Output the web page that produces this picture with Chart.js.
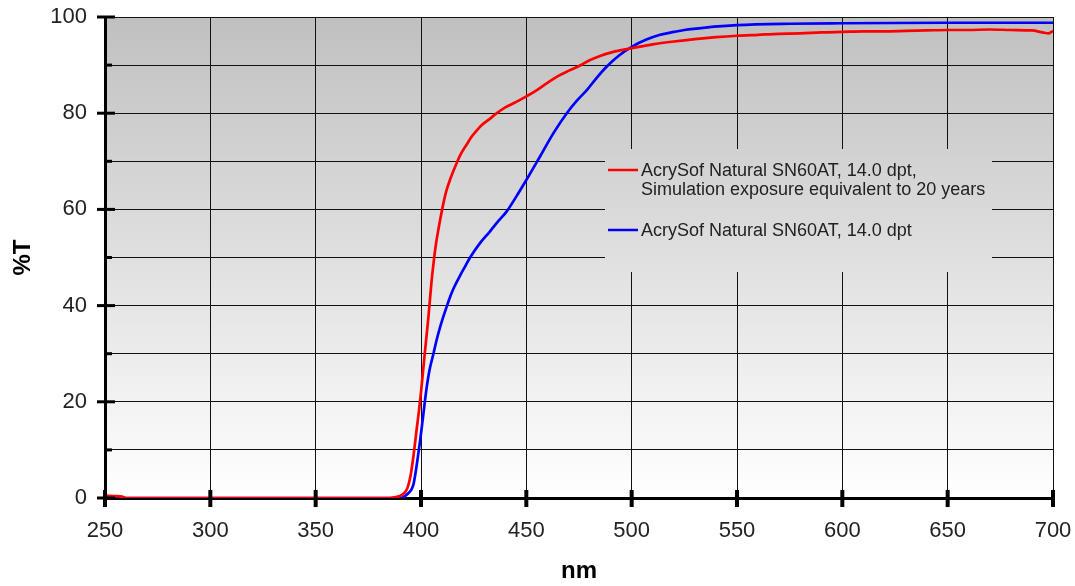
<!DOCTYPE html>
<html>
<head>
<meta charset="utf-8">
<script src="https://cdn.jsdelivr.net/npm/chart.js@4.4.1/dist/chart.umd.min.js"></script>
<style>
  html, body { margin: 0; padding: 0; background: #fff; }
  #wrap { width: 1075px; height: 586px; }
</style>
</head>
<body>
<div id="wrap"><canvas id="trans"></canvas></div>
<script>
// transmission curves
var redNm = [250, 255, 258, 260, 300, 350, 385, 388, 390, 392, 393.5, 395, 396.5, 398, 399, 400, 401, 402, 403.5, 405, 406, 407, 408.2, 409.5, 410.6, 412, 413.8, 416.9, 419, 421.7, 424, 426.4, 429, 432, 436, 440, 445, 450, 455, 460, 465, 470, 475, 480, 485, 490, 495, 500, 510, 520, 530, 540, 550, 560, 570, 580, 590, 600, 610, 620, 630, 640, 650, 660, 670, 680, 690, 695, 698, 700];
var redT = [0.5, 0.4, 0.3, 0, 0, 0, 0, 0.2, 0.4, 1.0, 2, 4.5, 9, 14.5, 18, 22, 26.5, 31, 37.5, 45, 49, 52.5, 55.7, 58.8, 61.2, 63.8, 66.2, 69.6, 71.6, 73.5, 75.1, 76.4, 77.6, 78.6, 80, 81.2, 82.3, 83.5, 84.8, 86.3, 87.7, 88.8, 89.8, 91, 91.9, 92.6, 93.1, 93.5, 94.3, 94.9, 95.4, 95.8, 96.1, 96.3, 96.5, 96.6, 96.8, 96.9, 97.0, 97.0, 97.1, 97.2, 97.3, 97.3, 97.4, 97.3, 97.2, 96.8, 96.6, 97.1];

var blueNm = [250, 300, 350, 388, 390, 392, 394, 395.5, 396.5, 397.5, 398.5, 399.6, 401, 402.7, 404, 405.9, 407.5, 409.1, 410.6, 412.2, 413.8, 415.5, 418.5, 420.5, 423.3, 428, 432.7, 436, 440.7, 445, 450, 456.5, 462.8, 469.2, 474, 478.7, 483.5, 488.2, 494, 500, 507, 513.5, 520, 525, 535, 550, 575, 600, 650, 700];
var blueT = [0, 0, 0, 0, 0, 0.3, 1, 1.8, 3, 5.5, 8.5, 12, 17, 23, 26.5, 30, 33, 35.6, 37.7, 39.8, 41.8, 43.6, 46.2, 47.8, 50, 53, 55.4, 57.2, 59.6, 62.5, 66.1, 71, 75.8, 80, 82.6, 84.8, 87.4, 89.7, 92, 93.8, 95.3, 96.3, 96.9, 97.3, 97.8, 98.3, 98.6, 98.7, 98.8, 98.8];

var seriesLabels = [
  ["AcrySof Natural SN60AT, 14.0 dpt,", "Simulation exposure equivalent to 20 years"],
  ["AcrySof Natural SN60AT, 14.0 dpt"]
];
var seriesColors = ["#ff0000", "#0000ff"];

function toPoints(xs, ys) {
  return xs.map(function (x, i) { return { x: x, y: ys[i] }; });
}

function plotGradient(ctx, area) {
  var g = ctx.createLinearGradient(0, area.top, 0, area.bottom);
  g.addColorStop(0, "#c0c0c0");
  g.addColorStop(1, "#ffffff");
  return g;
}

var FONT = "'Liberation Sans', Arial, sans-serif";

var backdrop = {
  id: "backdrop",
  beforeDraw: function (chart) {
    var ctx = chart.ctx, a = chart.chartArea;
    ctx.save();
    ctx.fillStyle = plotGradient(ctx, a);
    ctx.fillRect(a.left, a.top, a.right - a.left, a.bottom - a.top);
    ctx.restore();
  }
};

var extras = {
  id: "extras",
  afterDraw: function (chart) {
    var ctx = chart.ctx, a = chart.chartArea;
    var xs = chart.scales.x, ys = chart.scales.y;
    ctx.save();

    // tick marks
    ctx.strokeStyle = "#000";
    ctx.lineWidth = 3;
    for (var v = 0; v <= 100; v += 10) {
      var py = ys.getPixelForValue(v);
      ctx.beginPath();
      if (v % 20 === 0) {
        ctx.moveTo(a.left - 8, py); ctx.lineTo(a.left + 10, py);
      } else {
        ctx.moveTo(a.left, py); ctx.lineTo(a.left + 7, py);
      }
      ctx.stroke();
    }
    ctx.lineWidth = 4;
    for (var n = 250; n <= 700; n += 50) {
      var px = xs.getPixelForValue(n);
      ctx.beginPath();
      ctx.moveTo(px, a.bottom - 8); ctx.lineTo(px, a.bottom + 9);
      ctx.stroke();
    }

    // legend box inside the plot
    var bx = a.left + 500, by = a.top + 132, bw = 387, bh = 123;
    ctx.fillStyle = plotGradient(ctx, a);
    ctx.fillRect(bx, by, bw, bh);
    ctx.font = "18px " + FONT;
    ctx.textBaseline = "middle";
    ctx.fillStyle = "#222";
    var rows = [[22, 41], [82]];
    chart.data.datasets.forEach(function (ds, i) {
      var ly = by + rows[i][0];
      ctx.strokeStyle = ds.borderColor;
      ctx.lineWidth = 2.5;
      ctx.beginPath();
      ctx.moveTo(bx + 3, ly - 1); ctx.lineTo(bx + 33, ly - 1);
      ctx.stroke();
      seriesLabels[i].forEach(function (t, k) {
        ctx.fillText(t, bx + 36, by + rows[i][k]);
      });
    });
    ctx.restore();
  }
};

new Chart("trans", {
  type: "line",
  data: {
    datasets: [{
      label: seriesLabels[0].join(" "),
      data: toPoints(redNm, redT),
      borderColor: seriesColors[0],
      borderWidth: 2.7,
      pointRadius: 0,
      cubicInterpolationMode: "monotone",
      fill: false
    }, {
      label: seriesLabels[1].join(" "),
      data: toPoints(blueNm, blueT),
      borderColor: seriesColors[1],
      borderWidth: 2.7,
      pointRadius: 0,
      cubicInterpolationMode: "monotone",
      fill: false
    }]
  },
  options: {
    responsive: true,
    maintainAspectRatio: false,
    animation: false,
    layout: { padding: { top: 17, right: 22, left: 0, bottom: 0 } },
    plugins: {
      legend: { display: false },
      tooltip: { enabled: false }
    },
    scales: {
      x: {
        type: "linear",
        min: 250,
        max: 700,
        afterFit: function (s) {
          s.height = 88;
          s.paddingLeft = 0; s.paddingRight = 0;
        },
        ticks: {
          stepSize: 50,
          padding: 20,
          color: "#222",
          font: { family: FONT, size: 22 },
          maxRotation: 0
        },
        grid: { color: "#111", lineWidth: 1, drawTicks: false },
        border: { color: "#000", width: 3 },
        title: {
          display: true,
          text: "nm",
          color: "#000",
          font: { family: FONT, size: 24, weight: "bold" },
          padding: { top: 0, bottom: 0 }
        }
      },
      y: {
        min: 0,
        max: 100,
        afterFit: function (s) {
          s.width = 105;
          s.paddingTop = 0; s.paddingBottom = 0;
        },
        ticks: {
          stepSize: 10,
          padding: 18,
          color: "#222",
          font: { family: FONT, size: 22 },
          callback: function (v) { return v % 20 === 0 ? v : ""; }
        },
        grid: { color: "#111", lineWidth: 1, drawTicks: false },
        border: { color: "#000", width: 3 },
        title: {
          display: true,
          text: "%T",
          color: "#000",
          font: { family: FONT, size: 24, weight: "bold" },
          padding: { top: 9, bottom: 0 }
        }
      }
    }
  },
  plugins: [backdrop, extras]
});
</script>
</body>
</html>
